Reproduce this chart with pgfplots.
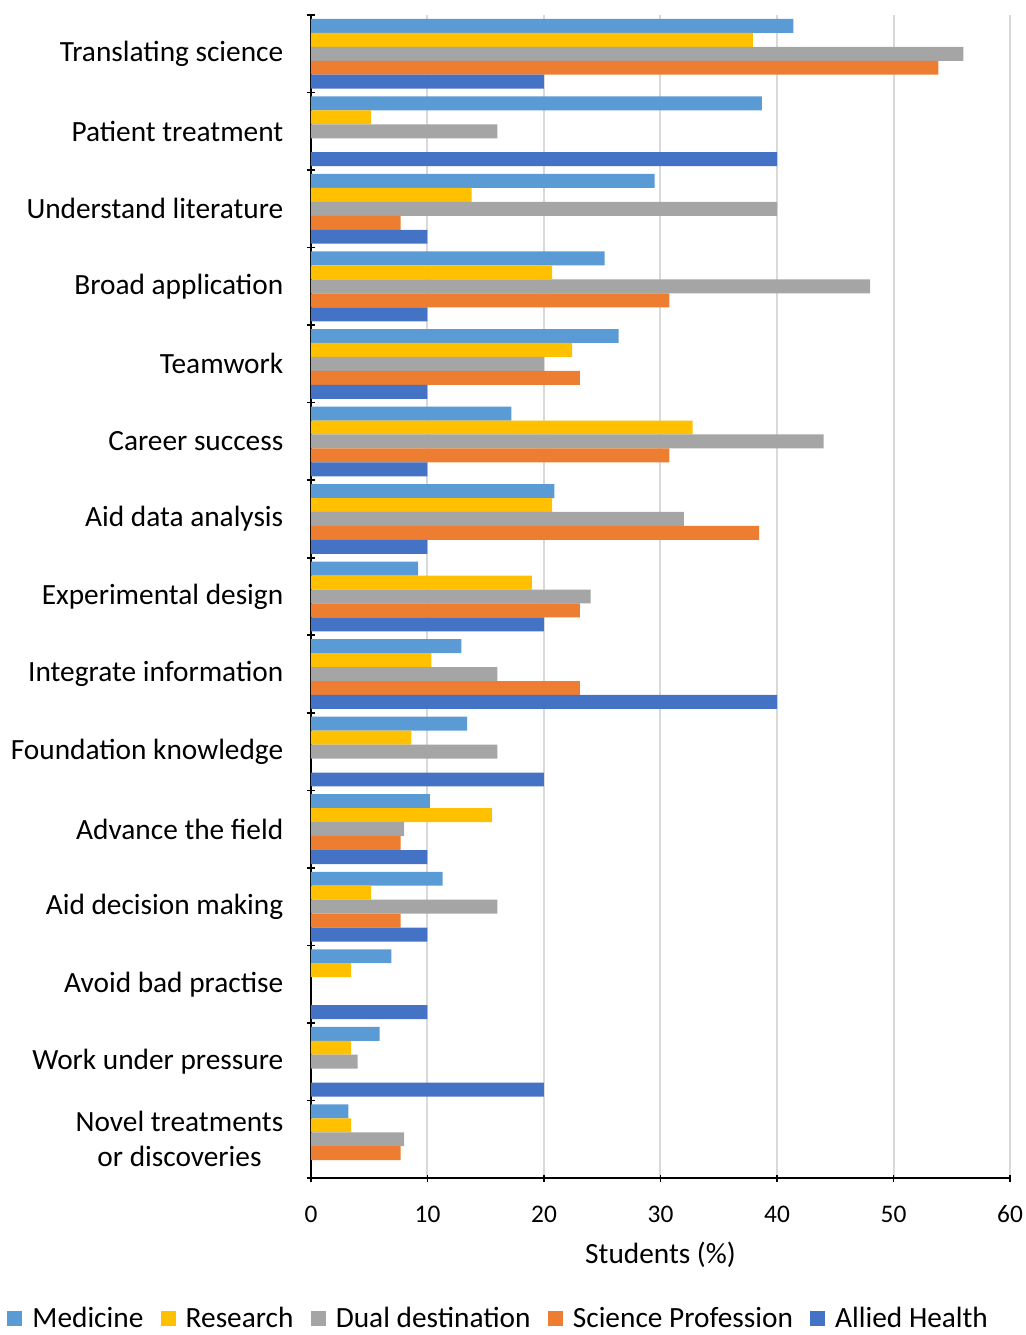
\documentclass[border=0pt]{standalone}
\usepackage{fontspec}
\setmainfont{Carlito}
\usepackage{pgfplots}
\pgfplotsset{compat=1.18}
\usetikzlibrary{calc}
\definecolor{medc}{HTML}{5B9BD5}
\definecolor{resc}{HTML}{FFC000}
\definecolor{dualc}{HTML}{A5A5A5}
\definecolor{scic}{HTML}{ED7D31}
\definecolor{allc}{HTML}{4472C4}
\definecolor{gridc}{HTML}{D9D9D9}

\begin{document}
\begin{tikzpicture}
\begin{axis}[
  name=ax,
  scale only axis, width=524.25pt, height=872.25pt,
  xbar, bar width=0.18,
  xmin=0, xmax=60, xtick={0,10,...,60},
  ymin=-0.5, ymax=14.5, y dir=reverse,
  ytick={0,...,14},
  minor ytick={-0.5,0.5,...,14.5},
  yticklabels={Translating science, Patient treatment, Understand literature,
    Broad application, Teamwork, Career success, Aid data analysis,
    Experimental design, Integrate information, Foundation knowledge,
    Advance the field, Aid decision making, Avoid bad practise,
    Work under pressure, {Novel treatments\\or discoveries}},
  yticklabel style={align=center, anchor=east, inner sep=0pt, xshift=-18pt,
    font=\fontsize{22}{26.4}\selectfont},
  xticklabel style={anchor=center, inner sep=0pt, yshift=-24.5pt,
    font=\fontsize{19}{22}\selectfont},
  /pgf/number format/assume math mode=true,
  every major y tick/.style={draw=none},
  tick align=outside,
  major tick length=5.25pt, minor tick length=6.5pt,
  tick style={black, line width=1.2pt},
  axis lines=left,
  axis line style={-, black, line width=1.5pt},
  xmajorgrids, ymajorgrids=false,
  major grid style={gridc, line width=1.5pt},
  xlabel={Students (\%)},
  xlabel style={at={(axis description cs:0.5,-0.0662)}, anchor=center,
    font=\fontsize{22}{26.4}\selectfont},
  legend columns=-1,
  legend style={at={(axis description cs:0.2690,-0.1205)}, anchor=center,
    draw=none, font=\fontsize{22}{26.4}\selectfont, inner sep=0pt,
    /tikz/every odd column/.append style={column sep=5.5pt},
    /tikz/every even column/.append style={column sep=11pt}},
  legend image code/.code={\fill[#1] (0pt,-5.6pt) rectangle (11.25pt,5.6pt);},
]
\addplot[fill=medc, draw=none, bar shift=-0.36] coordinates {
  (41.4,0) (38.7,1) (29.5,2) (25.2,3) (26.4,4) (17.2,5) (20.9,6) (9.2,7)
  (12.9,8) (13.4,9) (10.2,10) (11.3,11) (6.9,12) (5.9,13) (3.2,14)};
\addlegendentry{Medicine}
\addplot[fill=resc, draw=none, bar shift=-0.18] coordinates {
  (37.93,0) (5.17,1) (13.79,2) (20.69,3) (22.41,4) (32.76,5) (20.69,6) (18.97,7)
  (10.34,8) (8.62,9) (15.52,10) (5.17,11) (3.45,12) (3.45,13) (3.45,14)};
\addlegendentry{Research}
\addplot[fill=dualc, draw=none, bar shift=0] coordinates {
  (56,0) (16,1) (40,2) (48,3) (20,4) (44,5) (32,6) (24,7)
  (16,8) (16,9) (8,10) (16,11) (4,13) (8,14)};
\addlegendentry{Dual destination}
\addplot[fill=scic, draw=none, bar shift=0.18] coordinates {
  (53.85,0) (7.69,2) (30.77,3) (23.08,4) (30.77,5) (38.46,6) (23.08,7)
  (23.08,8) (7.69,10) (7.69,11) (7.69,14)};
\addlegendentry{Science Profession}
\addplot[fill=allc, draw=none, bar shift=0.36] coordinates {
  (20,0) (40,1) (10,2) (10,3) (10,4) (10,5) (10,6) (20,7)
  (40,8) (20,9) (10,10) (10,11) (10,12) (20,13)};
\addlegendentry{Allied Health}
\end{axis}
\pgfresetboundingbox
\path[use as bounding box] ($(ax.south west)+(-233.25pt,-117.75pt)$)
  rectangle ($(ax.north east)+(11.25pt,11.25pt)$);
\end{tikzpicture}
\end{document}
